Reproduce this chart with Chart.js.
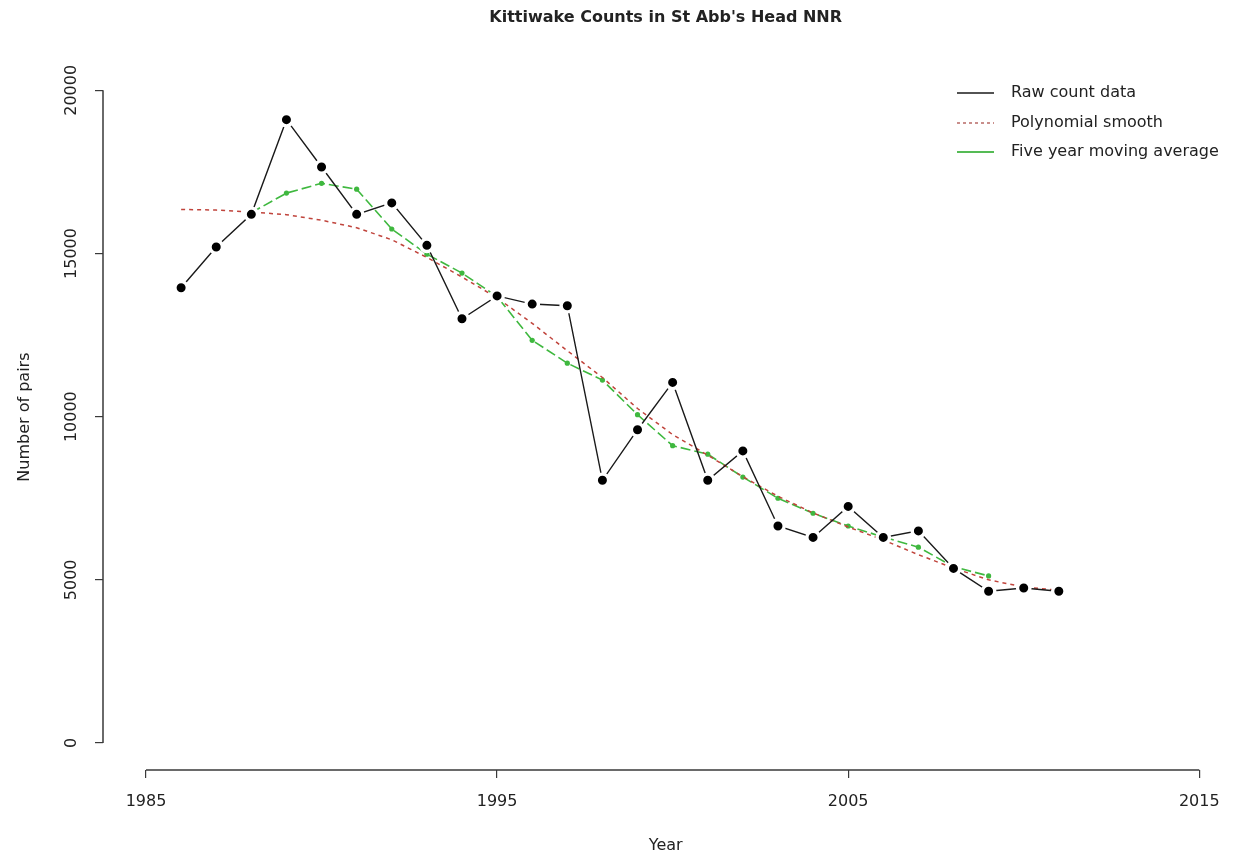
<!DOCTYPE html>
<html>
<head>
<meta charset="utf-8">
<title>Kittiwake Counts in St Abb's Head NNR</title>
<script src="https://cdn.jsdelivr.net/npm/chart.js@4.4.1/dist/chart.umd.min.js"></script>
<style>
  html, body { margin: 0; padding: 0; background: #fff; }
  #wrap { width: 1238px; height: 858px; }
</style>
</head>
<body>
<div id="wrap"><canvas id="chart" width="1238" height="858"></canvas></div>
<script>
// Data
const years = [1986, 1987, 1988, 1989, 1990, 1991, 1992, 1993, 1994, 1995, 1996, 1997, 1998,
  1999, 2000, 2001, 2002, 2003, 2004, 2005, 2006, 2007, 2008, 2009, 2010, 2011];
const rawCounts = [13950, 15200, 16200, 19100, 17650, 16200, 16550, 15250, 13000, 13700, 13450, 13400, 8050,
  9600, 11050, 8050, 8950, 6650, 6300, 7250, 6300, 6500, 5350, 4650, 4750, 4650];
const smoothCounts = [16350, 16330, 16270, 16190, 16020, 15790, 15420, 14880, 14280, 13640, 12860, 12020, 11200,
  10250, 9450, 8820, 8160, 7560, 7050, 6620, 6220, 5770, 5360, 5000, 4780, 4680];

const avgYears = [1988, 1989, 1990, 1991, 1992, 1993, 1994, 1995, 1996, 1997, 1998,
  1999, 2000, 2001, 2002, 2003, 2004, 2005, 2006, 2007, 2008, 2009];
const avgCounts = [16250, 16850, 17150, 16970, 15750, 14980, 14400, 13680, 12340, 11640, 11120,
  10060, 9110, 8850, 8150, 7500, 7040, 6650, 6310, 6000, 5400, 5120];

const xTicks = [1985, 1995, 2005, 2015];
const yTicks = [0, 5000, 10000, 15000, 20000];

const FONT = 'DejaVu Sans';
const toPoints = (xs, ys) => xs.map((x, i) => ({ x, y: ys[i] }));

// R-style axis lines: only from first tick to last tick
const axisLines = {
  id: 'axisLines',
  afterDraw(chart) {
    const { ctx, chartArea, scales } = chart;
    ctx.save();
    ctx.strokeStyle = '#3a3a3a';
    ctx.lineWidth = 1.5;
    ctx.beginPath();
    ctx.moveTo(scales.x.getPixelForValue(xTicks[0]), chartArea.bottom);
    ctx.lineTo(scales.x.getPixelForValue(xTicks[xTicks.length - 1]), chartArea.bottom);
    ctx.moveTo(chartArea.left, scales.y.getPixelForValue(yTicks[0]));
    ctx.lineTo(chartArea.left, scales.y.getPixelForValue(yTicks[yTicks.length - 1]));
    ctx.stroke();
    ctx.restore();
  }
};

// legend box in the top right corner, without frame
const cornerLegend = {
  id: 'cornerLegend',
  afterDraw(chart) {
    const { ctx } = chart;
    const rows = [93, 123, 152];
    ctx.save();
    ctx.font = '16px "' + FONT + '"';
    ctx.textBaseline = 'middle';
    ctx.textAlign = 'left';
    chart.data.datasets.forEach((ds, i) => {
      const y = rows[i];
      ctx.strokeStyle = ds.legendColor || ds.borderColor;
      ctx.lineWidth = ds.legendWidth || ds.borderWidth;
      ctx.setLineDash(ds.legendDash || []);
      ctx.beginPath();
      ctx.moveTo(957, y);
      ctx.lineTo(994, y);
      ctx.stroke();
      ctx.setLineDash([]);
      ctx.fillStyle = '#222';
      ctx.fillText(ds.label, 1011, y);
    });
    ctx.restore();
  }
};

new Chart(document.getElementById('chart'), {
  type: 'line',
  data: {
    datasets: [
      {
        label: 'Raw count data',
        data: toPoints(years, rawCounts),
        borderColor: '#1a1a1a',
        borderWidth: 1.4,
        pointRadius: 6.2,
        pointBackgroundColor: '#000',
        pointBorderColor: '#fff',
        pointBorderWidth: 3.4,
        legendWidth: 1.4
      },
      {
        label: 'Polynomial smooth',
        data: toPoints(years, smoothCounts),
        borderColor: '#c0443c',
        borderWidth: 1.5,
        borderDash: [4, 4],
        pointRadius: 0,
        legendDash: [3, 3],
        legendColor: '#b86a66'
      },
      {
        label: 'Five year moving average',
        data: toPoints(avgYears, avgCounts),
        borderColor: '#3fb83f',
        borderWidth: 1.6,
        borderDash: [10, 4],
        pointRadius: 2.6,
        pointBackgroundColor: '#3fb83f',
        pointBorderWidth: 0,
        legendWidth: 2.2,
        legendColor: '#55bb55'
      }
    ]
  },
  options: {
    responsive: false,
    animation: false,
    devicePixelRatio: 1,
    layout: { padding: 0 },
    plugins: {
      legend: { display: false },
      tooltip: { enabled: false },
      title: {
        display: true,
        fullSize: false,
        text: "Kittiwake Counts in St Abb's Head NNR",
        color: '#222',
        font: { family: FONT, size: 16, weight: 'bold' },
        padding: { top: 8, bottom: 37 }
      }
    },
    scales: {
      x: {
        type: 'linear',
        min: 1983.775,
        max: 2015.83,
        afterBuildTicks: s => { s.ticks = xTicks.map(v => ({ value: v })); },
        afterFit: s => { s.height = 88; s.paddingLeft = 0; s.paddingRight = 0; },
        grid: { drawOnChartArea: false, drawTicks: true, tickLength: 8, color: '#3a3a3a', lineWidth: 1.2 },
        border: { display: false },
        ticks: {
          color: '#222',
          font: { family: FONT, size: 16 },
          padding: 14,
          maxRotation: 0,
          callback: v => String(v)
        },
        title: {
          display: true,
          text: 'Year',
          color: '#222',
          font: { family: FONT, size: 16 },
          padding: { top: 0, bottom: 3 }
        }
      },
      y: {
        type: 'linear',
        min: -827,
        max: 20800,
        afterBuildTicks: s => { s.ticks = yTicks.map(v => ({ value: v })); },
        afterFit: s => { s.width = 103; s.paddingTop = 0; s.paddingBottom = 0; },
        grid: { drawOnChartArea: false, drawTicks: true, tickLength: 8, color: '#3a3a3a', lineWidth: 1.2 },
        border: { display: false },
        ticks: {
          color: '#222',
          font: { family: FONT, size: 16 },
          padding: -2,
          minRotation: 90,
          maxRotation: 90,
          crossAlign: 'center',
          callback: v => String(v)
        },
        title: {
          display: true,
          text: 'Number of pairs',
          color: '#222',
          font: { family: FONT, size: 16 },
          padding: { top: 15, bottom: 0 }
        }
      }
    }
  },
  plugins: [axisLines, cornerLegend]
});
</script>
</body>
</html>
